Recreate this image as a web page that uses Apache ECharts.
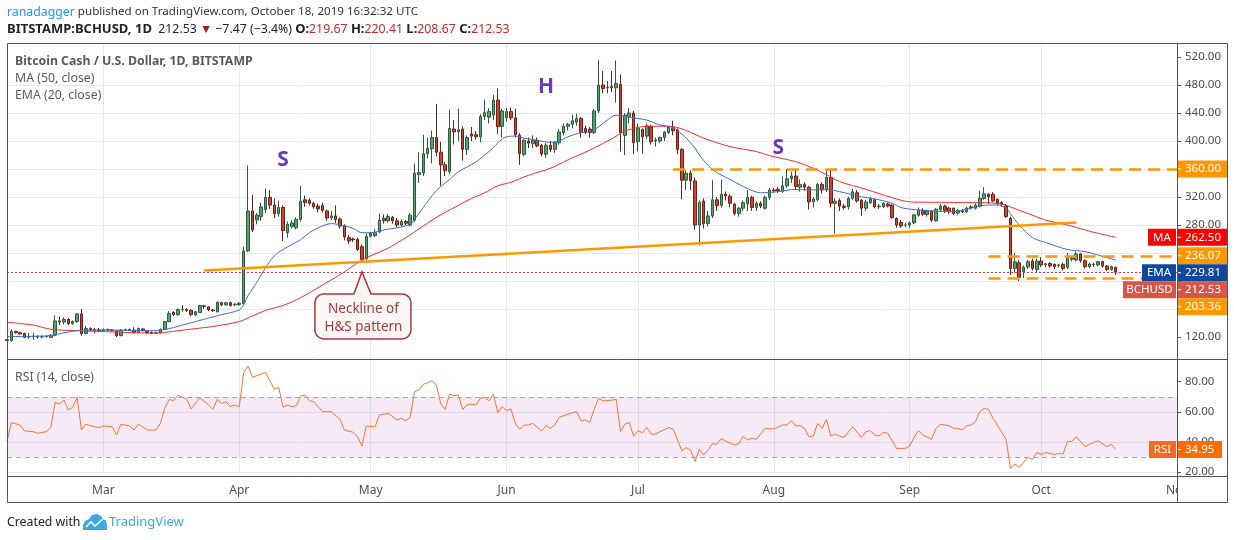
<!DOCTYPE html>
<html>
<head>
<meta charset="utf-8">
<title>BCHUSD 1D</title>
<script src="https://cdn.jsdelivr.net/npm/echarts@6/dist/echarts.min.js"></script>
<style>
html, body { margin: 0; padding: 0; background: #fff; }
#chart { width: 1234px; height: 540px; }
</style>
</head>
<body>
<div id="chart"></div>
<script>
var FONT = 'Noto Sans';
var monthNames = ['Jan', 'Feb', 'Mar', 'Apr', 'May', 'Jun', 'Jul', 'Aug', 'Sep', 'Oct', 'Nov', 'Dec'];

// one category per day, Feb 7 .. Nov 1 (empty days at the right edge)
var categories = [];
for (var t = Date.UTC(2019, 1, 7); t <= Date.UTC(2019, 10, 1); t += 864e5) {
    categories.push(new Date(t).toISOString().slice(0, 10));
}

var priceTicks = [120, 160, 200, 240, 280, 320, 360, 400, 440, 480, 520];
var rsiTicks = [20, 40, 60, 80];

// daily candles [open, high, low, close]
var ohlcFeb = [ // from Feb 7
    [116, 117, 114, 115], [115, 131, 113, 128], [128, 129, 125, 126], [126, 127.5, 123, 124.5], [125, 126, 118.5, 119.5],
    [120, 126, 117.5, 120.5], [120.5, 126, 116, 121], [121, 122, 118, 120], [120, 122, 118, 120.5], [120.5, 122.5, 119, 121],
    [119.5, 124, 118.5, 122.5], [122.5, 151, 121, 143], [143, 149, 137, 141.5], [141.5, 148, 138, 145], [145, 147, 137, 139],
    [139, 143.5, 137.5, 142], [142, 154, 140, 153], [153, 160, 122, 125], [125, 136, 124, 132], [132, 134, 128.5, 130],
    [130.5, 133, 125, 129.5], [130, 133, 127, 129]
];
var ohlcMar = [
    [129, 132, 128, 130.5], [130.5, 132, 129, 130], [130, 131, 128, 129], [129, 130, 120, 122], [122, 131.5, 121, 130],
    [130, 132, 128.5, 130.5], [130.5, 132, 128.5, 130], [130, 134, 125, 126.5], [126.5, 133.5, 126, 132], [131.5, 132.5, 128, 129],
    [129, 130, 124.5, 126], [126.5, 128, 124, 125.5], [125.5, 127.5, 124.5, 126], [126, 132, 125, 131], [131, 143, 130, 142],
    [142, 157, 141, 153.5], [155, 157, 150, 152], [152, 160.5, 150, 159.5], [159, 165.5, 156, 159.5], [159.5, 161, 156, 158],
    [158, 160, 150, 152], [152, 157, 150, 156], [155, 166, 154, 165], [164.5, 166, 160, 163.5], [163, 164, 157, 159],
    [158.5, 160, 156, 157.5], [156, 171, 155, 169.5], [169, 170.5, 164, 166], [166, 170, 165, 169], [169, 171, 163.5, 165],
    [166, 168, 164, 167]
];
var ohlcApr = [
    [166.5, 170, 164.5, 168], [168, 249, 166, 243], [243, 365, 241, 300], [300, 323, 270, 273], [287, 297, 281, 294],
    [292, 312, 286, 306], [302, 332, 297, 319.5], [319.5, 330, 303, 308.5], [308.5, 318, 290, 296], [296, 315, 292, 305],
    [305, 308, 257, 272], [269, 285, 262, 281], [278, 287, 275, 283], [276, 291, 274, 288], [288, 336, 285, 314],
    [316, 322, 306, 312], [315, 318, 308, 311], [311, 313, 303, 306], [307, 311, 298, 303], [308, 312, 298, 301],
    [300, 302, 286, 290], [290, 300, 287, 293], [293, 308, 283, 288], [288.5, 291, 275, 278.5], [279, 281, 258, 263],
    [262, 266, 253, 257], [260, 262, 256, 259], [259.5, 262, 243, 245], [249, 252, 228, 231], [232, 268, 230, 264]
];
var ohlcMay = [
    [264, 270, 262, 268], [265, 274, 263, 269], [270, 296, 268, 287], [289.5, 295, 282, 286], [286, 296, 283, 292],
    [291, 293, 282, 286], [286, 290, 277, 280], [280, 288, 278, 285], [285, 287, 280, 282.5], [280, 297, 278, 294],
    [287, 368, 284, 354], [352, 384, 340, 355], [354, 409, 350, 382], [382, 405, 375, 389.5], [389, 415, 368, 405],
    [405, 453, 378, 384], [384, 399, 336, 366], [366, 370, 350, 357.5], [356, 445, 353, 418], [417, 430, 395, 413],
    [413, 446, 400, 416], [417, 421, 372, 388], [388, 408, 380, 405], [410, 420, 400, 407], [409, 414, 402, 406],
    [406, 438, 398, 435], [435, 459, 430, 440.5], [434, 447, 425, 442], [437, 466, 430, 458.5], [458.5, 475, 410, 420.5],
    [421, 446, 405, 443]
];
var ohlcJun = [
    [433, 447, 428, 442], [442, 448, 430, 433], [433, 446, 405, 409], [408, 411, 366, 382], [381, 403, 378, 401],
    [400, 405, 390, 397], [396, 408, 390, 401], [401, 405, 391, 393], [394, 396, 378, 381.5], [381, 397, 376, 394],
    [394, 400, 384, 388], [388, 400, 383, 397.5], [397.5, 417, 395, 413], [412, 425, 408, 421], [421, 426, 415, 424],
    [424, 438, 418, 429], [427, 439, 422, 432], [432, 434, 405, 412], [418, 422, 410, 413], [417, 420, 405, 412],
    [412, 446, 410, 443], [443, 516, 440, 480], [480, 500, 468, 475], [476, 486, 468, 477], [478, 500, 470, 476],
    [476, 515, 455, 482], [481, 495, 385, 412], [408, 440, 380, 437], [435, 447, 425, 440], [440, 443, 381, 397.5]
];
var ohlcJul = [
    [399, 425, 385, 418], [416.5, 418, 382, 406], [407, 425, 403, 421.5], [421, 423, 395, 399], [400, 405, 392, 401.5],
    [400, 406, 397, 405], [405, 414, 400, 413], [412, 421, 410, 419.5], [419, 429, 408, 415], [415.5, 418, 381, 388],
    [388, 390, 317, 344], [344, 358, 330, 354], [354, 358, 330, 343], [343, 348, 273, 280], [280, 315, 251, 312],
    [314, 318, 275, 282], [282, 300, 278, 293], [293, 344, 290, 316], [316, 320, 300, 307.5], [308, 345, 305, 324],
    [324, 328, 315, 321.5], [321, 324, 305, 311], [310, 312, 294, 296.5], [296.5, 306, 292, 304], [304, 315, 300, 312],
    [310, 330, 300, 319.5], [319.5, 322, 300, 305], [305, 314, 300, 311], [311, 314, 304, 307], [304, 322, 302, 319.5],
    [319.5, 333, 316, 330]
];
var ohlcAug = [
    [330, 333, 326, 329], [331, 334, 326, 329], [328, 349, 326, 336], [336, 360, 333, 346], [346, 356, 340, 350],
    [350, 360, 330, 335], [334, 345, 328, 338], [338, 341, 329, 334], [334, 336, 302, 313], [313, 320, 305, 317],
    [316, 340, 314, 338], [338, 341, 325, 330], [330, 357, 327, 348], [348, 359, 305, 311], [311, 318, 268, 314],
    [315, 318, 300, 307], [307, 310, 302, 305], [306, 320, 302, 318], [318, 332, 316, 327.5], [326, 330, 312, 314.5],
    [315.5, 317, 293, 304], [304, 316, 300, 313], [312, 320, 310, 317], [316, 318, 304, 306], [306, 310, 303, 307],
    [306, 313, 304, 311], [310, 312, 305, 307], [308.5, 310, 289, 290.5], [289.5, 291, 276, 280], [283.5, 287, 276, 278.5],
    [280, 283, 277, 280]
];
var ohlcSep = [
    [280, 285, 276, 283], [283, 296, 281, 294.5], [294, 305, 292, 301.5], [301, 304, 293, 295.5], [295, 302, 292, 300.5],
    [300, 301, 284, 287], [286, 304, 285, 302.5], [302, 310, 300, 307], [307, 309, 297, 301], [304, 306, 296, 299],
    [304, 305, 294, 296.5], [297, 303, 294, 301], [300, 303, 297, 299], [299, 306, 297, 304], [306, 308, 302, 305],
    [304, 311, 302, 308.5], [307, 329, 305, 318], [318, 334, 316, 324.5], [324, 326, 310, 320.5], [324, 327, 313, 314.5],
    [316.5, 318, 308, 311], [312, 314, 306, 310], [307, 310, 290, 292], [289.5, 292, 208.5, 218], [218, 240, 212, 227.5],
    [226, 230, 200, 205], [213, 222, 204, 220], [220, 230, 217, 227.5], [228.5, 232, 215, 218], [216.5, 232, 212, 228.5]
];
var ohlcOct = [
    [228.5, 234, 220, 223], [223, 226, 220, 224.5], [225, 227, 219, 221.5], [223.8, 225, 217, 220.5], [222, 224, 219, 223],
    [223.8, 226, 215, 218], [219.5, 240, 217, 232.4], [231, 236, 228, 233], [230, 242, 228, 238.6], [238.6, 240, 226, 229],
    [229, 231, 218, 220.5], [220.5, 226, 218, 224.3], [224, 226, 220, 223.5], [223, 229, 221, 227.6], [227.6, 229, 219, 221.4],
    [221.4, 223, 214, 216.6], [216.6, 222, 215, 220.5], [219.67, 220.41, 208.67, 212.53]
];

// MA (50, close)
var maPoints = [
    ['02-07', 141], ['02-13', 137], ['02-17', 131], ['02-23', 129], ['02-28', 128], ['03-06', 126.5], ['03-13', 125.5],
    ['03-18', 129], ['03-22', 132], ['03-26', 135], ['04-01', 142], ['04-04', 150], ['04-07', 158], ['04-11', 165],
    ['04-14', 173], ['04-17', 183], ['04-21', 198], ['04-25', 213], ['04-28', 226], ['05-01', 236], ['05-05', 247],
    ['05-08', 258], ['05-11', 270], ['05-15', 287], ['05-18', 298], ['05-21', 308], ['05-24', 318], ['05-27', 326],
    ['05-30', 336], ['06-02', 341], ['06-06', 351], ['06-11', 361], ['06-15', 373], ['06-20', 387], ['06-25', 403],
    ['06-28', 414], ['07-03', 421], ['07-06', 421], ['07-09', 420.5], ['07-12', 415], ['07-16', 404], ['07-22', 392],
    ['07-28', 385], ['07-31', 379], ['08-06', 370.5], ['08-10', 361], ['08-13', 352], ['08-16', 342], ['08-22', 331],
    ['08-25', 325], ['08-28', 319], ['09-01', 313], ['09-05', 312.5], ['09-09', 312.4], ['09-13', 312], ['09-17', 312],
    ['09-22', 310], ['09-26', 301], ['09-29', 294], ['10-02', 287], ['10-07', 280], ['10-11', 273], ['10-14', 268],
    ['10-18', 262.50]
];

// EMA (20, close)
var emaPoints = [
    ['02-07', 120.5], ['02-12', 121], ['02-17', 122], ['02-20', 126], ['02-23', 129], ['02-26', 130], ['03-01', 130],
    ['03-06', 129.5], ['03-13', 129], ['03-16', 132], ['03-20', 138.6], ['03-25', 147], ['03-28', 152], ['04-01', 158.5],
    ['04-02', 166], ['04-03', 179], ['04-05', 198], ['04-07', 219], ['04-09', 236], ['04-11', 245], ['04-13', 252],
    ['04-15', 259], ['04-17', 269], ['04-19', 276], ['04-22', 282], ['04-25', 279], ['04-27', 275], ['04-29', 269],
    ['05-01', 269], ['05-04', 273], ['05-07', 276], ['05-10', 281], ['05-11', 288], ['05-13', 305], ['05-15', 322],
    ['05-17', 335], ['05-19', 345], ['05-21', 356], ['05-25', 370], ['05-28', 385], ['06-01', 406], ['06-03', 407],
    ['06-05', 404], ['06-08', 401], ['06-11', 398], ['06-13', 400], ['06-15', 406], ['06-18', 412], ['06-20', 413],
    ['06-22', 420], ['06-24', 430], ['06-26', 437], ['06-28', 435], ['07-01', 432], ['07-03', 430], ['07-06', 423],
    ['07-09', 419.5], ['07-11', 410], ['07-12', 404], ['07-14', 390], ['07-15', 380], ['07-18', 359], ['07-22', 345],
    ['07-26', 332], ['07-29', 326], ['08-02', 327.6], ['08-06', 331], ['08-09', 330], ['08-13', 331], ['08-16', 327.6],
    ['08-21', 320.5], ['08-25', 316], ['08-28', 311], ['08-30', 305], ['09-02', 302], ['09-06', 300], ['09-11', 299],
    ['09-15', 304], ['09-19', 308.6], ['09-21', 308.6], ['09-23', 304], ['09-24', 296], ['09-26', 280], ['09-29', 262],
    ['10-02', 255], ['10-07', 245], ['10-11', 242], ['10-14', 237], ['10-18', 229.81]
];

// RSI (14, close)
var rsiPoints = [
    ['02-07', 40.2], ['02-08', 52.8], ['02-10', 51.2], ['02-11', 47.3], ['02-13', 46.8], ['02-14', 45.7], ['02-16', 46.8],
    ['02-17', 49.7], ['02-18', 66.3], ['02-19', 65.2], ['02-20', 67.9], ['02-21', 61.2], ['02-22', 63], ['02-23', 69.6],
    ['02-24', 48], ['02-25', 51.7], ['02-27', 50.1], ['02-28', 49.5], ['03-01', 50.6], ['03-03', 50.1], ['03-04', 44.6],
    ['03-05', 51.7], ['03-07', 50.6], ['03-08', 47.9], ['03-09', 51.9], ['03-11', 47.9], ['03-13', 47.9], ['03-14', 52.4],
    ['03-15', 62.3], ['03-16', 68.3], ['03-17', 67.4], ['03-18', 71], ['03-20', 68.3], ['03-21', 61.9], ['03-23', 69.4],
    ['03-25', 64.5], ['03-26', 61.7], ['03-27', 68.3], ['03-28', 65.6], ['03-29', 66.7], ['03-30', 63.4], ['03-31', 64.5],
    ['04-01', 63.4], ['04-02', 86], ['04-03', 90.4], ['04-04', 82.9], ['04-07', 86.2], ['04-09', 75], ['04-10', 76.3],
    ['04-11', 63], ['04-12', 64.5], ['04-13', 63.4], ['04-14', 64], ['04-15', 70.5], ['04-16', 71.2], ['04-17', 67.4],
    ['04-18', 66.7], ['04-20', 60.1], ['04-22', 60.1], ['04-24', 55], ['04-25', 47.9], ['04-27', 46.4], ['04-28', 43.5],
    ['04-29', 37.3], ['04-30', 50.6], ['05-02', 50.1], ['05-03', 57.9], ['05-05', 59], ['05-07', 54.6], ['05-08', 55.7],
    ['05-09', 54.1], ['05-10', 56.3], ['05-11', 73.4], ['05-12', 74.5], ['05-13', 78.3], ['05-14', 79.4], ['05-15', 80.7],
    ['05-16', 77.8], ['05-17', 65.2], ['05-18', 61.6], ['05-19', 71.8], ['05-20', 70.7], ['05-21', 71.2], ['05-22', 61.6],
    ['05-23', 64.5], ['05-24', 65.2], ['05-25', 64.5], ['05-26', 69], ['05-27', 69.6], ['05-28', 67.4], ['05-29', 71.6],
    ['05-30', 59.6], ['05-31', 63.4], ['06-01', 60.8], ['06-02', 61.9], ['06-03', 52.3], ['06-04', 48.4], ['06-05', 51.2],
    ['06-06', 51.2], ['06-07', 52.3], ['06-09', 47.2], ['06-10', 50.8], ['06-11', 49], ['06-12', 51.2], ['06-13', 56.3],
    ['06-15', 58.5], ['06-17', 60.1], ['06-18', 53.9], ['06-19', 54.6], ['06-20', 53], ['06-21', 61.6], ['06-22', 69],
    ['06-23', 67.2], ['06-25', 67.8], ['06-26', 68.3], ['06-27', 46.8], ['06-28', 51.7], ['06-29', 53], ['06-30', 43.9],
    ['07-01', 47.5], ['07-02', 46.1], ['07-03', 49.7], ['07-04', 45.2], ['07-05', 45.2], ['07-06', 46.8], ['07-08', 49.5],
    ['07-09', 48.6], ['07-11', 34.2], ['07-12', 36.2], ['07-13', 34.6], ['07-14', 26.9], ['07-15', 35.1], ['07-16', 31.3],
    ['07-17', 34.6], ['07-18', 38.8], ['07-19', 38.4], ['07-20', 42.2], ['07-21', 40.6], ['07-23', 37.9], ['07-24', 39],
    ['07-25', 43.5], ['07-26', 41.3], ['07-27', 42.4], ['07-28', 41.7], ['07-30', 49], ['08-01', 48.6], ['08-03', 51.2],
    ['08-04', 51.2], ['08-05', 54.1], ['08-06', 50.6], ['08-07', 50.8], ['08-08', 49], ['08-09', 43.5], ['08-10', 43.9],
    ['08-11', 52.3], ['08-12', 49], ['08-13', 55], ['08-14', 43.9], ['08-15', 45.2], ['08-16', 43.9], ['08-17', 43],
    ['08-19', 50.1], ['08-21', 43], ['08-22', 46.8], ['08-23', 47.5], ['08-24', 44.6], ['08-25', 43.9], ['08-26', 46.4],
    ['08-27', 45.7], ['08-29', 35.7], ['08-31', 35.7], ['09-01', 37.3], ['09-02', 43], ['09-03', 47.5], ['09-04', 44.6],
    ['09-06', 41.7], ['09-07', 49], ['09-08', 51.7], ['09-10', 50.8], ['09-11', 49], ['09-12', 49], ['09-13', 47.9],
    ['09-14', 50.8], ['09-15', 51.2], ['09-16', 53.4], ['09-17', 60.1], ['09-18', 62.3], ['09-19', 61.6], ['09-20', 55.7],
    ['09-21', 51.2], ['09-23', 41.7], ['09-24', 22.4], ['09-25', 25.3], ['09-26', 23.1], ['09-28', 29.8], ['09-29', 28.4],
    ['09-30', 32.9], ['10-01', 31.7], ['10-02', 32.9], ['10-04', 31.7], ['10-05', 32.4], ['10-06', 31.9], ['10-07', 40.2],
    ['10-08', 40.2], ['10-09', 43.5], ['10-11', 36.8], ['10-12', 38.4], ['10-14', 40.8], ['10-16', 36.8], ['10-17', 38.4],
    ['10-18', 34.95]
];

// horizontal levels drawn by the author
var levelLines = [
    { value: 360.00, from: '07-09' },
    { value: 236.07, from: '09-19' },
    { value: 203.36, from: '09-19' }
];
var neckline = [['03-24', 215], ['10-09', 283.4]];
var patternLabels = [['S', '04-11', 373], ['H', '06-10', 477], ['S', '08-02', 390]];

// ---------------------------------------------------------------
function day(d) { return '2019-' + d; }
function toSeries(pts) { return pts.map(function (p) { return [day(p[0]), p[1]]; }); }

var ohlc = [].concat(ohlcFeb, ohlcMar, ohlcApr, ohlcMay, ohlcJun, ohlcJul, ohlcAug, ohlcSep, ohlcOct);
var candleData = ohlc.map(function (k) { return [k[0], k[3], k[2], k[1]]; });
var lastClose = ohlc[ohlc.length - 1][3];
var lastDay = categories[categories.length - 1];

var isMonthStart = function (i, v) { return v.slice(8) === '01'; };
var GRID_COLOR = '#e9e9e9';
var ORANGE = '#ff9800';

var markLines = levelLines.map(function (l) {
    return [{ coord: [day(l.from), l.value], lineStyle: { color: ORANGE, width: 2.5, type: [12, 7] } },
            { coord: [lastDay, l.value] }];
});
markLines.push([{ coord: [day(neckline[0][0]), neckline[0][1]], lineStyle: { color: ORANGE, width: 2.5, type: 'solid' } },
                { coord: [day(neckline[1][0]), neckline[1][1]] }]);
markLines.push({ yAxis: lastClose, lineStyle: { color: '#e53935', width: 1, type: [2, 2] } });

var chart = echarts.init(document.getElementById('chart'));

chart.setOption({
    animation: false,
    textStyle: { fontFamily: FONT },
    grid: [
        { left: 7, top: 43, width: 1170, height: 322 },
        { left: 7, top: 359, width: 1170, height: 113 }
    ],
    xAxis: [0, 1].map(function (gi) {
        return {
            type: 'category', gridIndex: gi, data: categories, boundaryGap: false,
            axisLine: { show: false }, axisTick: { show: false },
            axisLabel: gi === 1 ? {
                show: true, interval: isMonthStart, margin: 13, color: '#4f4f4f', fontSize: 12,
                formatter: function (v) { return monthNames[+v.slice(5, 7) - 1]; }
            } : { show: false },
            splitLine: { show: true, interval: isMonthStart, lineStyle: { color: GRID_COLOR } }
        };
    }),
    yAxis: [
        {
            type: 'value', gridIndex: 0, position: 'right', min: 80, max: 540, interval: 40,
            axisLine: { show: false },
            axisTick: { show: true, length: 4, customValues: priceTicks, lineStyle: { color: '#555' } },
            axisLabel: {
                color: '#4f4f4f', fontSize: 11.5, margin: 8, customValues: priceTicks,
                formatter: function (v) { return (v >= 120 && v <= 520) ? v.toFixed(2) : ''; }
            },
            splitLine: { show: true, showMinLine: false, showMaxLine: false, lineStyle: { color: GRID_COLOR } }
        },
        {
            type: 'value', gridIndex: 1, position: 'right', min: 20, max: 95.1, interval: 20,
            axisLine: { show: false },
            axisTick: { show: true, length: 4, customValues: rsiTicks, lineStyle: { color: '#555' } },
            axisLabel: {
                color: '#4f4f4f', fontSize: 11.5, margin: 8, customValues: rsiTicks,
                formatter: function (v) { return (v >= 20 && v <= 80) ? v.toFixed(2) : ''; }
            },
            splitLine: { show: true, showMaxLine: false, lineStyle: { color: GRID_COLOR } }
        }
    ],
    series: [
        {
            type: 'candlestick', xAxisIndex: 0, yAxisIndex: 0, data: candleData, barWidth: 3,
            itemStyle: { color: '#53a26f', color0: '#d2412f', borderColor: '#2e5c3e', borderColor0: '#6a2319', borderWidth: 1 },
            markLine: { silent: true, symbol: ['none', 'none'], label: { show: false }, data: markLines },
            markPoint: {
                silent: true, symbol: 'circle', symbolSize: 1, itemStyle: { color: 'rgba(0,0,0,0)' },
                label: {
                    show: true, position: 'inside', color: '#673ab7', fontSize: 21, fontWeight: 'bold', fontFamily: FONT,
                    formatter: function (p) { return p.name; }
                },
                data: patternLabels.map(function (l) { return { name: l[0], coord: [day(l[1]), l[2]] }; })
            }
        },
        {
            name: 'MA', type: 'line', xAxisIndex: 0, yAxisIndex: 0, data: toSeries(maPoints),
            showSymbol: false, smooth: 0.3, lineStyle: { color: '#f22b2b', width: 1 }, z: 3
        },
        {
            name: 'EMA', type: 'line', xAxisIndex: 0, yAxisIndex: 0, data: toSeries(emaPoints),
            showSymbol: false, smooth: 0.3, lineStyle: { color: '#3e6fc6', width: 1 }, z: 3
        },
        {
            name: 'RSI', type: 'line', xAxisIndex: 1, yAxisIndex: 1, data: toSeries(rsiPoints),
            showSymbol: false, lineStyle: { color: '#f7772a', width: 1 },
            markArea: { silent: true, itemStyle: { color: 'rgba(155, 39, 176, 0.1)' }, data: [[{ yAxis: 30 }, { yAxis: 70 }]] },
            markLine: {
                silent: true, symbol: ['none', 'none'], label: { show: false },
                lineStyle: { color: '#a9a3ad', width: 1, type: [5, 4] },
                data: [{ yAxis: 70 }, { yAxis: 30 }]
            }
        }
    ]
});

// ---- overlays: header, legends, price tags, callout, frame ----
var g = [];
function txt(x, y, text, style, z) {
    g.push({
        type: 'text', x: x, y: y, z: z || 300, silent: true,
        style: Object.assign({ text: text, fontFamily: FONT, fontSize: 12.3, fill: '#333', verticalAlign: 'middle', align: 'left' }, style || {})
    });
}
function box(x, y, w, h, color) {
    g.push({ type: 'rect', z: 310, silent: true, shape: { x: x, y: y, width: w, height: h }, style: { fill: color } });
}
// polygon points for a rounded box with a pointer on its top edge
function calloutPoints(l, tp, r, b, rad, px1, tipX, tipY, px2) {
    var pts = [[l + rad, tp], [px1, tp], [tipX, tipY], [px2, tp]];
    var corners = [[r - rad, tp + rad, -90], [r - rad, b - rad, 0], [l + rad, b - rad, 90], [l + rad, tp + rad, 180]];
    corners.forEach(function (c) {
        for (var k = 0; k <= 6; k++) {
            var a = (c[2] + k * 15) * Math.PI / 180;
            pts.push([c[0] + rad * Math.cos(a), c[1] + rad * Math.sin(a)]);
        }
    });
    return pts;
}

var HEAD = 11.6, HEAD_B = 13, HEAD_N = 12.3;
txt(7, 12, '{u|ranadagger}{t| published on TradingView.com, October 18, 2019 16:32:32 UTC}', {
    rich: {
        u: { fill: '#2196f3', fontSize: 12.3, fontFamily: FONT },
        t: { fill: '#333', fontSize: HEAD, fontFamily: FONT }
    }
});
txt(7, 29, '{b|BITSTAMP:BCHUSD, 1D}{n|  212.53 }{r|▼}{n| \u22127.47 (\u22123.4%) }{b|O:}{v|219.67}{b| H:}{v|220.41}{b| L:}{v|208.67}{b| C:}{v|212.53}', {
    rich: {
        b: { fill: '#222', fontWeight: 'bold', fontSize: HEAD_B, fontFamily: FONT },
        n: { fill: '#222', fontSize: HEAD_N, fontFamily: FONT },
        r: { fill: '#a61b1b', fontSize: HEAD_N, fontFamily: FONT },
        v: { fill: '#c62828', fontSize: HEAD_N, fontFamily: FONT }
    }
});
txt(15, 61, 'Bitcoin Cash / U.S. Dollar, 1D, BITSTAMP', { fill: '#5a5a5a', fontWeight: 'bold', fontSize: 12.3 });
txt(15, 78, 'MA (50, close)', { fill: '#5a5a5a', fontSize: 12.3 });
txt(15, 95, 'EMA (20, close)', { fill: '#5a5a5a', fontSize: 12.3 });
txt(15, 377, 'RSI (14, close)', { fill: '#5a5a5a', fontSize: 12.3 });

// footer
txt(7, 522, 'Created with', { fill: '#222', fontSize: 12.3 });
g.push({ type: 'polygon', z: 300, silent: true,
    shape: { points: [[83, 530], [83, 525], [85, 521], [89, 519], [92, 515], [97, 514], [101, 516], [103, 519], [106, 521], [107, 525], [107, 530]] },
    style: { fill: '#3ba8e0' } });
g.push({ type: 'polyline', z: 301, silent: true, shape: { points: [[86, 527], [91, 522], [95, 526], [103, 519]] },
    style: { stroke: '#fff', lineWidth: 1.6 } });
txt(109, 522, 'TradingView', { fill: '#3ba8e0', fontSize: 13 });

// price tags on the right scale, pushed apart like TradingView does
var tags = [
    { value: levelLines[0].value, color: ORANGE },
    { value: maPoints[maPoints.length - 1][1], color: '#ff0000', tag: 'MA', tagW: 28 },
    { value: levelLines[1].value, color: ORANGE },
    { value: emaPoints[emaPoints.length - 1][1], color: '#0f479f', tag: 'EMA', tagW: 34 },
    { value: lastClose, color: '#d6564a', tag: 'BCHUSD', tagW: 53 },
    { value: levelLines[2].value, color: ORANGE }
].sort(function (a, b) { return b.value - a.value; });

var H = 17, prevY = -1e9;
tags.forEach(function (tg) {
    var y = chart.convertToPixel({ yAxisIndex: 0 }, tg.value);
    if (y < prevY + H) y = prevY + H;
    prevY = y;
    box(1177, y - H / 2, 51, H, tg.color);
    txt(1185, y, tg.value.toFixed(2), { fill: '#fff', fontSize: 11.5 }, 320);
    if (tg.tag) {
        box(1176 - tg.tagW, y - H / 2, tg.tagW, H, tg.color);
        txt(1176 - tg.tagW / 2, y, tg.tag, { fill: '#fff', fontSize: 11.5, align: 'center' }, 320);
    }
    g.push({ type: 'line', z: 321, silent: true, shape: { x1: 1177, y1: y, x2: 1181, y2: y }, style: { stroke: '#fff', lineWidth: 1 } });
});

var rsiLast = rsiPoints[rsiPoints.length - 1][1];
var ry = chart.convertToPixel({ yAxisIndex: 1 }, rsiLast);
box(1177, ry - H / 2, 45, H, '#ff6d00');
box(1149, ry - H / 2, 27, H, '#f26a24');
txt(1185, ry, rsiLast.toFixed(2), { fill: '#fff', fontSize: 11.5 }, 320);
txt(1162.5, ry, 'RSI', { fill: '#fff', fontSize: 11.5, align: 'center' }, 320);
g.push({ type: 'line', z: 321, silent: true, shape: { x1: 1177, y1: ry, x2: 1181, y2: ry }, style: { stroke: '#fff', lineWidth: 1 } });

// neckline callout pointing at the April low
var tip = chart.convertToPixel({ xAxisIndex: 0, yAxisIndex: 0 }, [day('04-29'), 213]);
(function () {
    var tx = tip[0], ty = tip[1];
    g.push({ type: 'polygon', z: 300, silent: true,
        shape: { points: calloutPoints(tx - 47, ty + 22, tx + 49, ty + 67, 9, tx - 8, tx, ty, tx + 9) },
        style: { fill: '#fdf6f6', stroke: '#a53b3b', lineWidth: 1.5 } });
    txt(tx + 1.5, ty + 37, 'Neckline of', { fill: '#a53b3b', fontSize: 13.5, align: 'center' }, 301);
    txt(tx + 1.5, ty + 55, 'H&S pattern', { fill: '#a53b3b', fontSize: 13.5, align: 'center' }, 301);
})();

// hide the part of "Nov" running under the price scale, then the frame
g.push({ type: 'rect', z: 290, silent: true, shape: { x: 1178, y: 477, width: 49, height: 25 }, style: { fill: '#fff' } });
var FRAME = '#555';
g.push({ type: 'rect', z: 400, silent: true, shape: { x: 7.5, y: 43.5, width: 1220, height: 459 }, style: { fill: 'rgba(0,0,0,0)', stroke: FRAME, lineWidth: 1 } });
[359.5, 476.5].forEach(function (y) {
    g.push({ type: 'line', z: 400, silent: true, shape: { x1: 7, y1: y, x2: 1228, y2: y }, style: { stroke: FRAME, lineWidth: 1 } });
});
g.push({ type: 'line', z: 400, silent: true, shape: { x1: 1177.5, y1: 43, x2: 1177.5, y2: 503 }, style: { stroke: FRAME, lineWidth: 1 } });

chart.setOption({ graphic: g });
</script>
</body>
</html>
